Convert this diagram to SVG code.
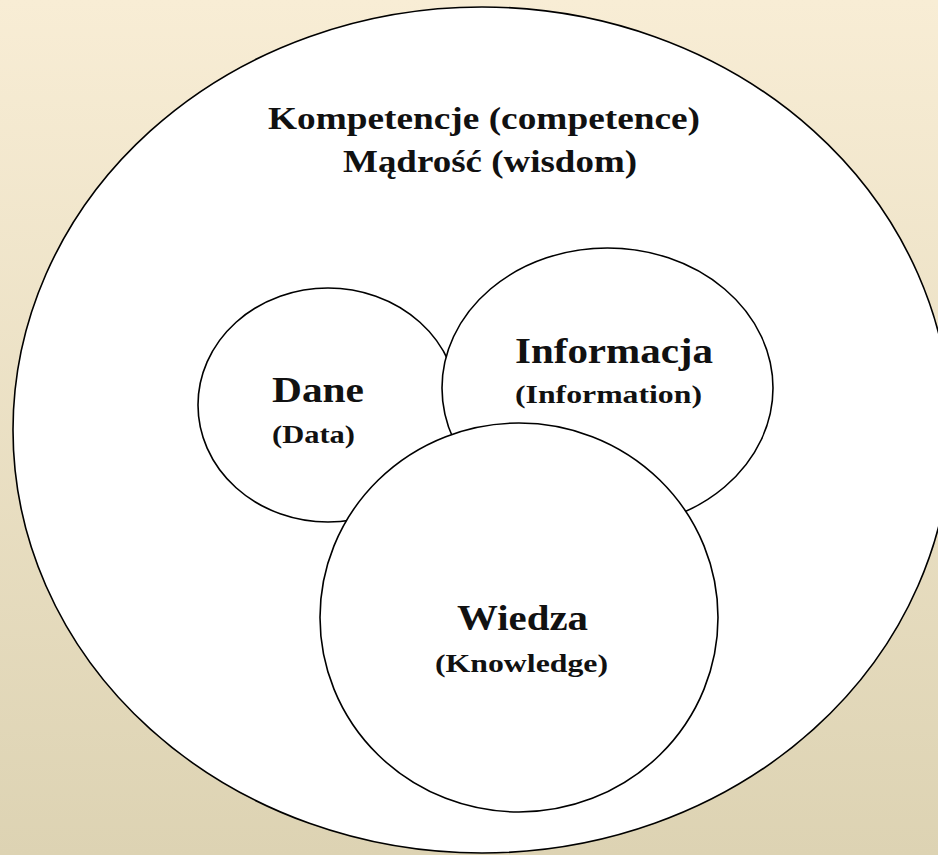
<svg xmlns="http://www.w3.org/2000/svg" width="938" height="855" viewBox="0 0 938 855">
  <defs>
    <linearGradient id="bg" x1="0" y1="0" x2="0" y2="1">
      <stop offset="0" stop-color="#f8edd5"/>
      <stop offset="1" stop-color="#ddd3b3"/>
    </linearGradient>
    <style>
      .shape { fill: #ffffff; stroke: #000000; stroke-width: 1.6; }
      .label { font-family: "Liberation Serif", "Times New Roman", serif; font-weight: bold; fill: #111111; text-anchor: middle; }
      .big { font-size: 36px; }
      .small { font-size: 25px; }
      .title { font-size: 31px; }
    </style>
  </defs>

  <rect x="0" y="0" width="938" height="855" fill="url(#bg)"/>

  <!-- outer set: competence / wisdom -->
  <g id="kompetencje">
    <ellipse class="shape" cx="482" cy="430" rx="469" ry="423"/>
    <text class="label title" x="484" y="129" textLength="432" lengthAdjust="spacingAndGlyphs">Kompetencje (competence)</text>
    <text class="label title" x="490" y="172" textLength="294" lengthAdjust="spacingAndGlyphs">Mądrość (wisdom)</text>
  </g>

  <!-- data -->
  <g id="dane">
    <ellipse class="shape" cx="328" cy="405" rx="130" ry="117"/>
    <text class="label big" x="318" y="402" textLength="92" lengthAdjust="spacingAndGlyphs">Dane</text>
    <text class="label small" x="313.5" y="443" textLength="83" lengthAdjust="spacingAndGlyphs">(Data)</text>
  </g>

  <!-- information -->
  <g id="informacja">
    <ellipse class="shape" cx="607.5" cy="388" rx="165.5" ry="140"/>
    <text class="label big" x="614" y="363" textLength="198" lengthAdjust="spacingAndGlyphs">Informacja</text>
    <text class="label small" x="608.5" y="403" textLength="187" lengthAdjust="spacingAndGlyphs">(Information)</text>
  </g>

  <!-- knowledge -->
  <g id="wiedza">
    <ellipse class="shape" cx="519" cy="617.5" rx="199" ry="194.5"/>
    <text class="label big" x="522.5" y="630" textLength="131" lengthAdjust="spacingAndGlyphs">Wiedza</text>
    <text class="label small" x="521.5" y="672" textLength="173" lengthAdjust="spacingAndGlyphs">(Knowledge)</text>
  </g>

  <g id="connectors"/>
</svg>
